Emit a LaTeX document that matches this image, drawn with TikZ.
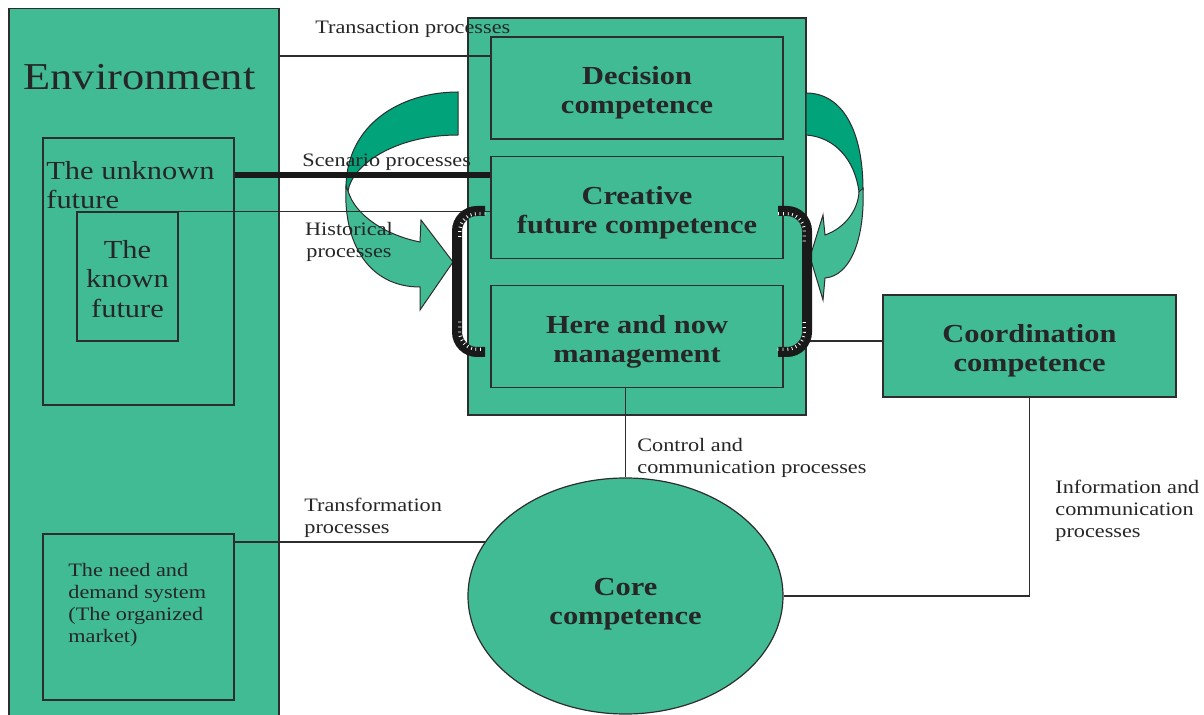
\documentclass[tikz,border=0pt]{standalone}
\usepackage{fontspec}
\setmainfont[FakeStretch=1.17]{Liberation Serif}
\usetikzlibrary{shapes.geometric,decorations.pathreplacing}
\definecolor{boxgreen}{RGB}{65,187,148}
\definecolor{arrowgreen}{RGB}{0,163,122}
\definecolor{edgegray}{RGB}{45,45,45}

\begin{document}
\begin{tikzpicture}[x=0.5pt,y=-0.5pt,
	box_node/.style={rectangle,fill=boxgreen,draw=edgegray,line width=0.6pt,inner sep=0pt},
	comp_node/.style={box_node,minimum width=146pt,minimum height=51pt},
	comp_text/.style={inner sep=0pt,align=center,text=black!85,font=\fontsize{13}{14.5}\selectfont\bfseries,yshift=-2.5pt},
	text_node/.style={inner sep=0pt,text=black!85,font=\fontsize{13}{14.7}\selectfont},
	label_node/.style={inner sep=0pt,text=black!85,font=\fontsize{9.5}{11}\selectfont},
	link_line/.style={draw=edgegray,line width=0.6pt},
	scen_line/.style={draw=black!90,line width=3pt},
	dark_arrow/.style={fill=arrowgreen,draw=edgegray,line width=0.5pt},
	light_arrow/.style={fill=boxgreen,draw=edgegray,line width=0.5pt},
	bracket_line/.style={draw=black!90,line width=5pt,rounded corners=10pt},
	tick_line/.style={draw=white,line width=0.4pt,rounded corners=10pt,decorate,decoration={ticks,segment length=2.5pt,amplitude=0.8pt,raise=1.4pt}}]

	\fill[white] (0,0) rectangle (1204,715);
	\useasboundingbox (0,0) rectangle (1204,715);

	% environment
	\node[box_node,minimum width=135pt,minimum height=361pt] (env) at (144,369.5) {};
	\node[box_node,minimum width=95.5pt,minimum height=133.5pt] (unknown) at (138.5,271.5) {};
	\node[box_node,minimum width=50.5pt,minimum height=64.5pt] (known) at (127.5,276.5) {};
	\node[box_node,minimum width=95.5pt,minimum height=83pt] (market) at (138.5,617) {};

	\node[text_node,anchor=base west,font=\fontsize{19}{22}\selectfont] (env_text) at (23,90) {Environment};
	\node[text_node,anchor=west,align=left] (unknown_text) at (46,185) {The unknown\\future};
	\node[text_node,align=center] (known_text) at (127.5,279) {The\\known\\future};
	\node[label_node,anchor=west,align=left] (market_text) at (68,605) {The need and\\demand system\\(The organized\\market)};

	% competences
	\node[box_node,minimum width=169pt,minimum height=198.5pt] (firm) at (637,216.5) {};
	\node[comp_node,label={[comp_text]center:{Decision\\competence}}] (decision) at (637,88) {};
	\node[comp_node,label={[comp_text]center:{Creative\\future competence}}] (creative) at (637,207.5) {};
	\node[comp_node,label={[comp_text]center:{Here and now\\management}}] (herenow) at (637,336.5) {};
	\node[comp_node,minimum width=146.5pt,label={[comp_text]center:{Coordination\\competence}}] (coord) at (1029.5,346) {};
	\node[box_node,ellipse,minimum width=157.5pt,minimum height=118pt,label={[comp_text,yshift=-1.5pt]center:{Core\\competence}}] (core) at (625.5,596) {};

	% turning arrows
	\filldraw[dark_arrow] (458,92) .. controls (400,92) and (346,125) .. (346,188) -- (348,191) .. controls (352,165) and (395,135) .. (458,135) -- cycle;
	\filldraw[light_arrow] (346,186) .. controls (343,245) and (370,287) .. (420,287) -- (420,310) -- (453,262) -- (421,220) -- (420,242) .. controls (385,235) and (355,215) .. (348,191) -- cycle;
	\filldraw[dark_arrow] (806,93) .. controls (842,93) and (863,130) .. (863,190) -- (859,192) .. controls (855,160) and (835,137) .. (806,135) -- cycle;
	\filldraw[light_arrow] (863,188) .. controls (865,240) and (850,276) .. (825,278) -- (823,300) -- (810,257) -- (823,215) -- (825,235) .. controls (845,228) and (858,210) .. (859,192) -- cycle;

	% processes
	\coordinate (trans_pt) at (0,56);
	\coordinate (scen_pt) at (0,175);
	\coordinate (coord_pt) at (0,341);
	\draw[link_line] (env.east |- trans_pt) -- (decision.west |- trans_pt);
	\draw[scen_line] (unknown.east |- scen_pt) -- (creative.west |- scen_pt);
	\draw[link_line] (known.north east) -- (creative.west |- known.north east);
	\draw[link_line] (market.east |- core.159) -- (core.159);
	\draw[link_line] (core.north) -- (core.north |- herenow.south);
	\draw[link_line] (firm.east |- coord_pt) -- (coord.west |- coord_pt);
	\draw[link_line] (coord.south) |- (core.east);

	\node[label_node,anchor=base west] (trans_label) at (315,34) {Transaction processes};
	\node[label_node,anchor=base west] (scen_label) at (302,167) {Scenario processes};
	\node[label_node,align=center] (hist_label) at (349,242) {Historical\\processes};
	\node[label_node,anchor=west,align=left] (transf_label) at (304,518) {Transformation\\processes};
	\node[label_node,anchor=west,align=left] (control_label) at (637,458) {Control and\\communication processes};
	\node[label_node,anchor=west,align=left] (info_label) at (1055,511) {Information and\\communication\\processes};

	% brackets
	\draw[bracket_line] (485,211) -- (457,211) -- (457,352) -- (485,352);
	\draw[bracket_line] (778,211) -- (807,211) -- (807,352) -- (778,352);
	\draw[tick_line] (485,211) -- (457,211) -- (457,241);
	\draw[tick_line] (457,322) -- (457,352) -- (485,352);
	\draw[tick_line] (807,241) -- (807,211) -- (778,211);
	\draw[tick_line] (778,352) -- (807,352) -- (807,322);
\end{tikzpicture}
\end{document}
